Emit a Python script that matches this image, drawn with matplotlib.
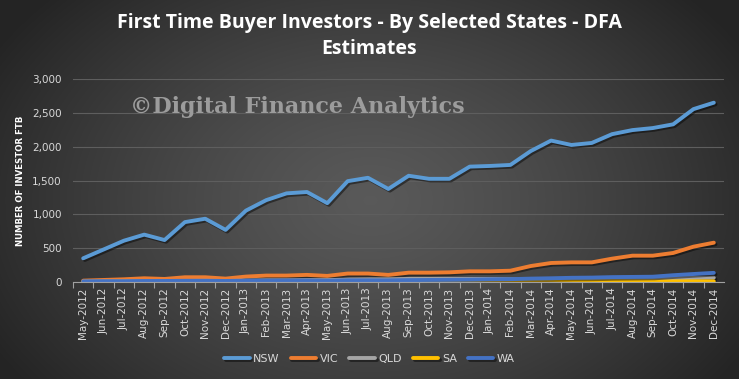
import matplotlib.pyplot as plt
import matplotlib.patheffects as pe
from matplotlib.ticker import FuncFormatter
import numpy as np

months = [
    "May-2012", "Jun-2012", "Jul-2012", "Aug-2012", "Sep-2012", "Oct-2012", "Nov-2012", "Dec-2012",
    "Jan-2013", "Feb-2013", "Mar-2013", "Apr-2013", "May-2013", "Jun-2013", "Jul-2013", "Aug-2013",
    "Sep-2013", "Oct-2013", "Nov-2013", "Dec-2013", "Jan-2014", "Feb-2014", "Mar-2014", "Apr-2014",
    "May-2014", "Jun-2014", "Jul-2014", "Aug-2014", "Sep-2014", "Oct-2014", "Nov-2014", "Dec-2014",
]
nsw = [350, 480, 610, 700, 620, 885, 935, 770, 1055, 1210, 1310, 1330, 1165, 1490, 1540, 1375,
       1570, 1525, 1525, 1705, 1715, 1730, 1935, 2090, 2025, 2055, 2185, 2245, 2275, 2330, 2555, 2650]
vic = [20, 30, 40, 55, 45, 70, 70, 50, 80, 95, 95, 105, 90, 125, 125, 105,
       138, 138, 143, 158, 158, 167, 236, 281, 290, 290, 345, 389, 389, 429, 522, 581]
qld = [5, 8, 10, 12, 12, 15, 18, 15, 20, 25, 25, 28, 28, 35, 38, 40,
       45, 45, 45, 45, 45, 40, 40, 40, 40, 45, 45, 50, 50, 55, 60, 65]
sa = [3, 3, 4, 4, 4, 5, 5, 5, 5, 5, 6, 6, 6, 6, 6, 6,
      6, 7, 7, 7, 7, 8, 8, 8, 8, 8, 8, 8, 9, 9, 10, 10]
wa = [10, 12, 12, 15, 15, 18, 18, 15, 20, 20, 22, 22, 20, 25, 25, 25,
      28, 30, 32, 35, 40, 42, 50, 55, 62, 65, 72, 75, 78, 100, 118, 135]

series = [("NSW", nsw, "#5B9BD5"), ("VIC", vic, "#ED7D31"), ("QLD", qld, "#A5A5A5"),
          ("SA", sa, "#FFC000"), ("WA", wa, "#4472C4")]

fig = plt.figure(figsize=(7.39, 3.79), dpi=100)

# radial gradient background
bg = fig.add_axes([0, 0, 1, 1], zorder=0)
yy, xx = np.mgrid[0:379, 0:739]
r = np.sqrt(((xx - 370) / 430.0) ** 2 + ((yy - 200) / 300.0) ** 2)
r = np.clip(r, 0, 1)
shade = 0.35 - (0.35 - 0.145) * r ** 1.3
bg.imshow(np.dstack([shade, shade, shade]), aspect="auto", extent=[0, 1, 0, 1])
bg.axis("off")

ax = fig.add_axes([73 / 739, 1 - 282 / 379, 651 / 739, 203 / 379], zorder=1)
ax.set_facecolor("none")
x = np.arange(len(months))
shadow = [pe.SimpleLineShadow(offset=(1.2, -1.2), shadow_color="black", alpha=0.45), pe.Normal()]
for name, vals, col in series:
    ax.plot(x, vals, color=col, lw=2.8, label=name, solid_capstyle="round", path_effects=shadow)

ax.set_xlim(-0.5, len(months) - 0.5)
ax.set_ylim(0, 3000)
ax.set_yticks(np.arange(0, 3001, 500))
ax.yaxis.set_major_formatter(FuncFormatter(lambda v, p: f"{int(v):,}"))
ax.grid(axis="y", color="#5e5e5e", lw=0.8)
ax.set_axisbelow(True)
for s in ["top", "right", "left"]:
    ax.spines[s].set_visible(False)
ax.spines["bottom"].set_color("#a0a0a0")

ax.set_xticks(x - 0.5, minor=False)
ax.set_xticklabels([])
ax.set_xticks(x, minor=True)
ax.set_xticklabels(months, minor=True, rotation=90, fontsize=7.5, color="#d9d9d9")
ax.tick_params(axis="x", which="major", length=4, color="#a0a0a0")
ax.tick_params(axis="x", which="minor", length=0, pad=4)
ax.tick_params(axis="y", length=0, labelsize=7.5, labelcolor="#d9d9d9", pad=8)

ax.set_ylabel("NUMBER OF INVESTOR FTB", color="white", fontsize=6.2, fontweight="bold", labelpad=5)

fig.text(0.5, 0.905, "First Time Buyer Investors - By Selected States - DFA\nEstimates",
         ha="center", va="center", color="white", fontsize=14, fontweight="bold",
         family="Open Sans", linespacing=1.4)

fig.text(130 / 739, 1 - 107 / 379, "\u00a9Digital Finance Analytics", ha="left", va="center",
         color="#9c9c9c", fontsize=16, fontweight="bold", family="DejaVu Serif", zorder=2)

fig.legend(loc="center", bbox_to_anchor=(0.5, 1 - 359 / 379), ncol=5, frameon=False,
           fontsize=8, labelcolor="#d9d9d9", handlelength=2.3, columnspacing=1.0, handletextpad=0.3)

fig.savefig("out.png", dpi=100)
